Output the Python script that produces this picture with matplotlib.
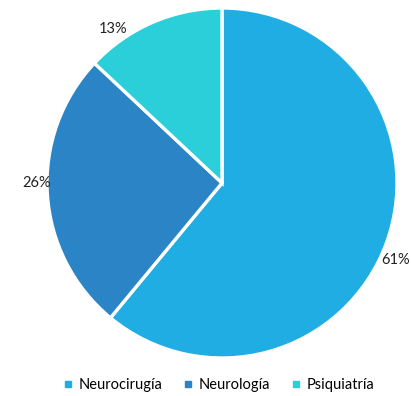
import matplotlib.pyplot as plt
from matplotlib.lines import Line2D

plt.rcParams['font.family'] = ['Lato', 'DejaVu Sans']

areas = ['Neurocirugía', 'Neurología', 'Psiquiatría']
shares = [61, 26, 13]
colors = ['#1FADE3', '#2A84C6', '#2ACFD9']
# where each percentage label sits, in pie radius units
label_pos = [(0.99, -0.44), (-1.06, 0.0), (-0.62, 0.88)]

fig = plt.figure(figsize=(4.11, 3.96), dpi=100)
ax = fig.add_axes([47 / 411, 38 / 396, 350 / 411, 350 / 396])

wedges, texts, pcts = ax.pie(shares, colors=colors, startangle=90, counterclock=False,
                             autopct='%d%%', pctdistance=1.1,
                             wedgeprops=dict(edgecolor='white', linewidth=2.4))
for t, (x, y) in zip(pcts, label_pos):
    t.set_position((x, y))
    t.set_fontsize(10.5)
    t.set_color('#222222')
ax.set_xlim(-1, 1)
ax.set_ylim(-1, 1)

handles = [Line2D([], [], marker='s', linestyle='none', markersize=4,
                  markerfacecolor=c, markeredgecolor=c) for c in colors]
fig.legend(handles, areas, loc='center', bbox_to_anchor=(219 / 411, 1 - 385 / 396),
           ncol=3, frameon=False, fontsize=10.5, handlelength=0.6, handletextpad=0.4,
           columnspacing=1.5)

fig.savefig('out.png')
